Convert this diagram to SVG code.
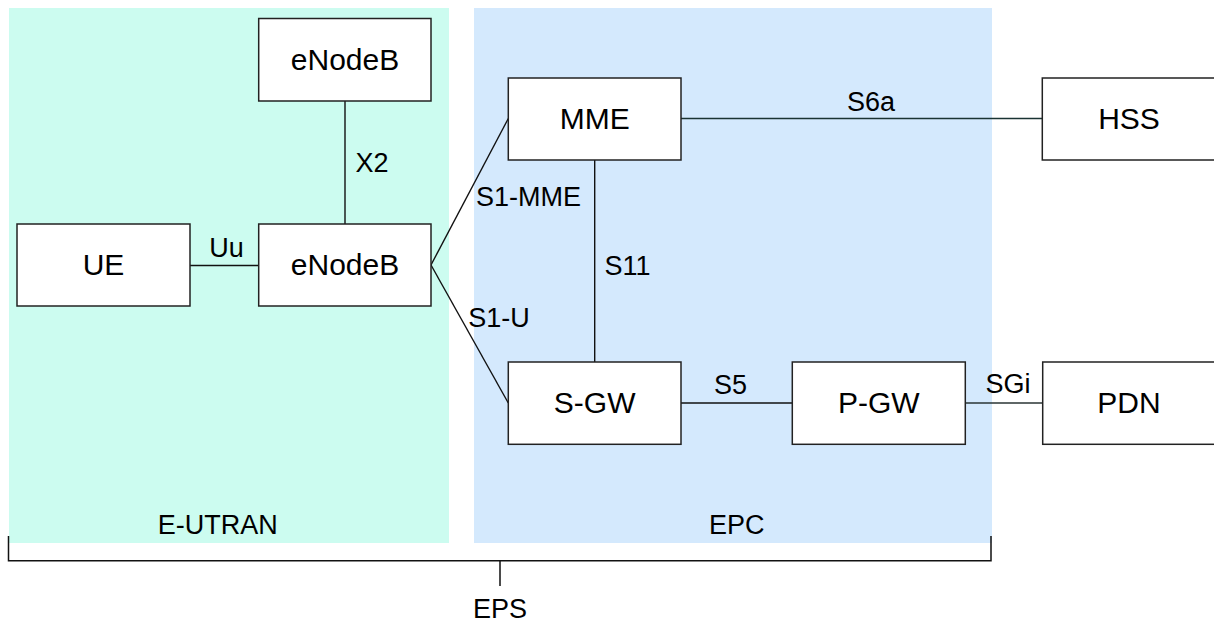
<svg xmlns="http://www.w3.org/2000/svg" width="1214" height="624" viewBox="0 0 1214 624">
<style>
.node rect{fill:#fff;stroke:#222;stroke-width:1.5}
.node text{font-family:"Liberation Sans",Arial,sans-serif;font-size:30px;fill:#000;text-anchor:middle}
.lbl{font-family:"Liberation Sans",Arial,sans-serif;font-size:27px;fill:#000;text-anchor:middle}
.conn line{stroke:#111;stroke-width:1.4;fill:none}
</style>
<g id="regions">
<rect x="9" y="8" width="440" height="535" fill="#ccfcf0"/>
<rect x="474" y="8" width="518" height="535" fill="#d4e9fd"/>
<text class="lbl" x="217.7" y="534">E-UTRAN</text>
<text class="lbl" x="736.7" y="534">EPC</text>
</g>
<g id="connectors" class="conn">
<line x1="345" y1="101" x2="345" y2="224"/>
<line x1="190" y1="265.5" x2="259" y2="265.5"/>
<line x1="431" y1="265" x2="508.3" y2="118.5"/>
<line x1="431" y1="265" x2="508.3" y2="403"/>
<line x1="594.7" y1="160" x2="594.7" y2="362"/>
<line x1="681" y1="118.5" x2="1042.3" y2="118.5" style="stroke:#1a3333"/>
<line x1="681" y1="403" x2="792.3" y2="403"/>
<line x1="965.3" y1="403" x2="1042.7" y2="403" style="stroke:#2a3535"/>
<text class="lbl" x="372" y="172">X2</text>
<text class="lbl" x="226.5" y="257">Uu</text>
<text class="lbl" x="528.5" y="206">S1-MME</text>
<text class="lbl" x="627.5" y="275">S11</text>
<text class="lbl" x="499" y="327">S1-U</text>
<text class="lbl" x="730.5" y="394">S5</text>
<text class="lbl" x="1008" y="393">SGi</text>
<text class="lbl" x="871" y="111">S6a</text>
</g>
<g id="eps-bracket">
<path d="M8.5 536V560.7H991V536M500 560.7V586" fill="none" stroke="#111" stroke-width="1.5"/>
<text class="lbl" x="500" y="618">EPS</text>
</g>
<g id="enodeb-top" class="node"><rect x="258.7" y="18.5" width="172.3" height="82.5"/><text x="345" y="70">eNodeB</text></g>
<g id="ue" class="node"><rect x="17" y="224" width="173" height="82"/><text x="103.5" y="275">UE</text></g>
<g id="enodeb" class="node"><rect x="258.7" y="224" width="172.3" height="82"/><text x="345" y="275">eNodeB</text></g>
<g id="mme" class="node"><rect x="508.3" y="78" width="172.7" height="82"/><text x="594.7" y="129">MME</text></g>
<g id="hss" class="node"><rect x="1042.3" y="78" width="173" height="82"/><text x="1129" y="129">HSS</text></g>
<g id="sgw" class="node"><rect x="508.3" y="362" width="172.7" height="82.3"/><text x="594.7" y="413">S-GW</text></g>
<g id="pgw" class="node"><rect x="792.3" y="362" width="173" height="82.3"/><text x="878.8" y="413">P-GW</text></g>
<g id="pdn" class="node"><rect x="1042.7" y="362" width="173" height="82.3"/><text x="1129" y="413">PDN</text></g>
</svg>
